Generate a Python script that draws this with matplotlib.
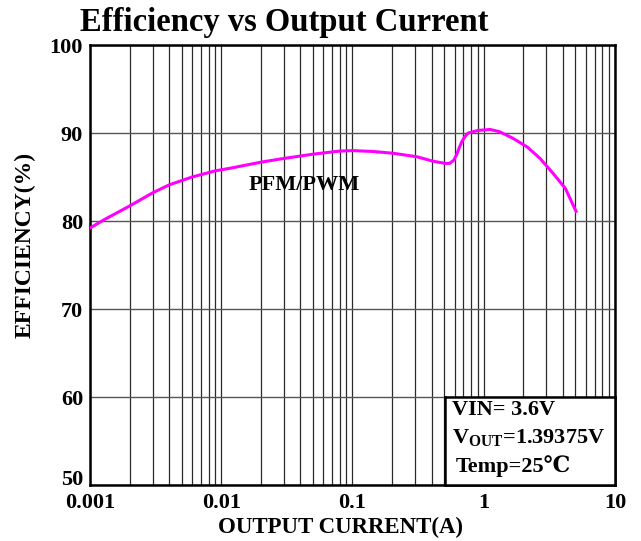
import numpy as np
import matplotlib.pyplot as plt
from matplotlib.ticker import LogLocator, FixedLocator, NullFormatter

# data
current = [0.001, 0.0013, 0.002, 0.003, 0.004, 0.006, 0.009, 0.0117, 0.0203,
           0.0297, 0.0503, 0.080, 0.101, 0.144, 0.204, 0.31, 0.41, 0.507, 0.55,
           0.59, 0.62, 0.65, 0.68, 0.72, 0.76, 0.91, 1.12, 1.32, 1.67, 2.15,
           2.69, 3.38, 4.19, 5.05]
efficiency = [79.2, 80.2, 81.7, 83.2, 84.1, 85.0, 85.7, 86.0, 86.7,
              87.1, 87.6, 87.95, 88.0, 87.9, 87.7, 87.3, 86.8, 86.55, 86.55,
              86.9, 87.5, 88.3, 89.0, 89.6, 90.0, 90.3, 90.4, 90.15, 89.4, 88.4,
              87.1, 85.4, 83.7, 81.1]

x_ticks = [0.001, 0.01, 0.1, 1, 10]
x_labels = ["0.001", "0.01", "0.1", "1", "10"]
y_ticks = [50, 60, 70, 80, 90, 100]

plt.rcParams['font.family'] = ['Liberation Serif', 'DejaVu Serif']
plt.rcParams['font.weight'] = 'bold'
plt.rcParams['mathtext.fontset'] = 'custom'
plt.rcParams['mathtext.rm'] = 'Liberation Serif:bold'
plt.rcParams['mathtext.bf'] = 'Liberation Serif:bold'

fig = plt.figure(figsize=(6.41, 5.41), dpi=100)
ax = fig.add_axes([0.1404, 0.1035, 0.819, 0.8133])

ax.plot(current, efficiency, color='#ff00ff', lw=2.2, zorder=3,
        solid_joinstyle='round')

ax.set_xscale('log')
ax.set_xlim(0.001, 10)
ax.set_ylim(50, 100)
ax.xaxis.set_major_locator(FixedLocator(x_ticks))
ax.set_xticklabels(x_labels)
ax.xaxis.set_minor_locator(LogLocator(base=10, subs=np.arange(2, 10)))
ax.xaxis.set_minor_formatter(NullFormatter())
ax.set_yticks(y_ticks)

ax.grid(True, which='both', axis='x', color='#2a2a2a', lw=0.9)
ax.grid(True, which='major', axis='y', color='#555555', lw=1.0)
ax.tick_params(which='both', length=0, labelsize=16)
ax.tick_params(axis='x', pad=6)
ax.tick_params(axis='y', pad=5)
for lbl in ax.get_xticklabels() + ax.get_yticklabels():
    lbl.set_fontweight('bold')
ax.get_yticklabels()[0].set_va('baseline')  # keep "50" clear of "0.001"
for s in ax.spines.values():
    s.set_linewidth(1.8)
    s.set_color('black')

fig.text(340 / 641, 1 - 527 / 541, 'OUTPUT CURRENT(A)', fontsize=16.5,
         fontweight='bold', ha='center', va='center')
fig.text(25 / 641, 1 - 245 / 541, 'EFFICIENCY(%)', fontsize=17,
         fontweight='bold', ha='center', va='center', rotation=90)
fig.text(284 / 641, 1 - 22 / 541, 'Efficiency vs Output Current', fontsize=23.5,
         fontweight='bold', ha='center', va='center')

ax.text(0.0427, 84.1, 'PFM/PWM', fontsize=16, fontweight='bold',
        ha='center', va='center', zorder=4)

# condition box in lower right corner
box_ax = fig.add_axes([445 / 641, (541 - 485) / 541, (615 - 445) / 641, (485 - 397) / 541])
box_ax.set_xticks([])
box_ax.set_yticks([])
for s in box_ax.spines.values():
    s.set_linewidth(1.8)
box_ax.text(0.04, 0.85, 'VIN= 3.6V', fontsize=16, fontweight='bold', va='center')
box_ax.text(0.04, 0.53, r'V$_{\mathrm{OUT}}$=1.39375V', fontsize=16, fontweight='bold', va='center')
box_ax.text(0.06, 0.21, 'Temp=25℃', fontsize=16, fontweight='bold', va='center')

fig.savefig('out.png', dpi=100)
